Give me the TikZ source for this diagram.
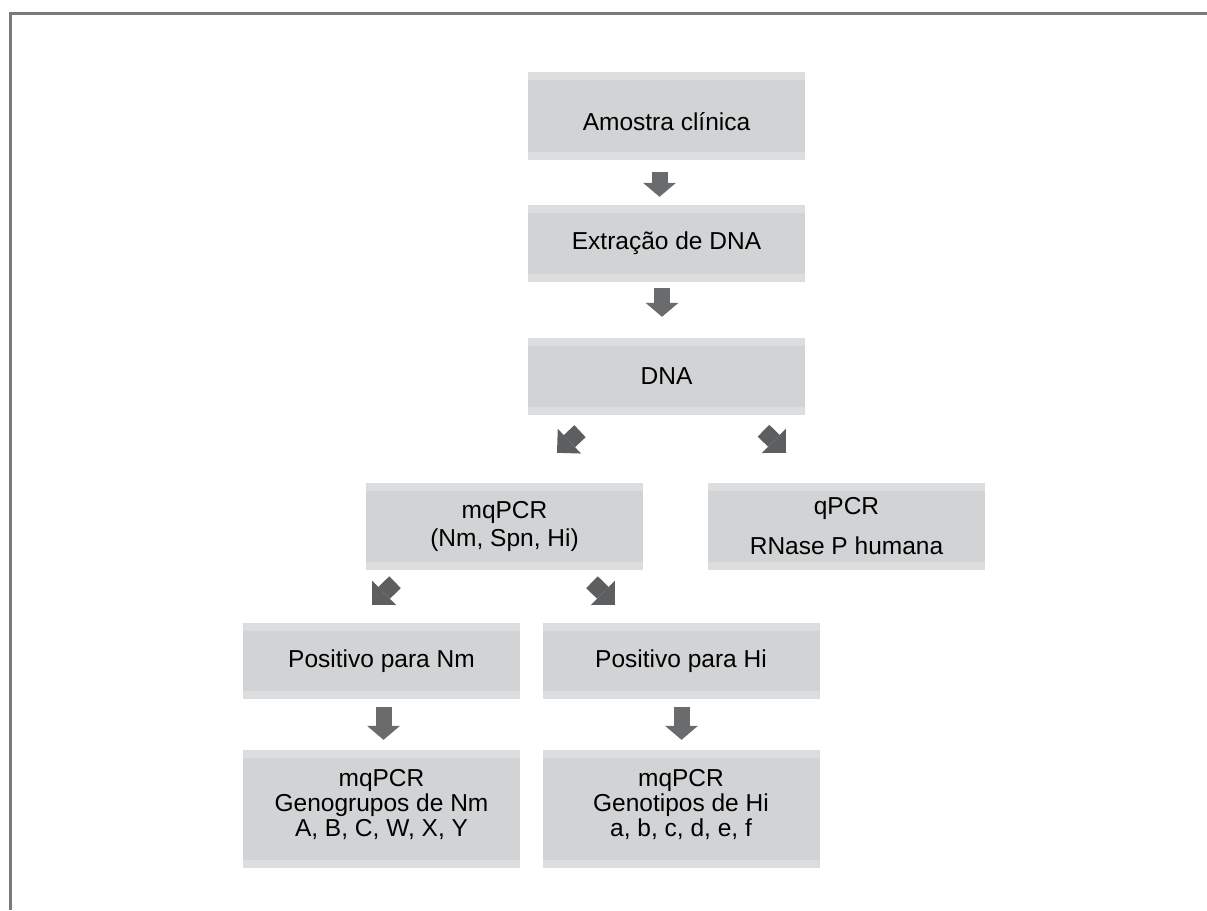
\documentclass[tikz,border=0pt]{standalone}
\usepackage{fontspec}
\setmainfont{Liberation Sans}
\usetikzlibrary{arrows.meta,calc}
\definecolor{boxfill}{HTML}{D1D3D4}
\definecolor{bandfill}{HTML}{DCDDDE}
\definecolor{arrowdark}{HTML}{5C5E60}
\definecolor{arrowmid}{HTML}{6A6B6D}
\definecolor{framegray}{HTML}{7A7A7A}
\begin{document}
\begin{tikzpicture}[x=1pt,y=-1pt,
  box/.style={rectangle, fill=boxfill, inner sep=0pt, minimum width=277pt, align=center,
    font=\fontsize{24.5}{25}\selectfont,
    path picture={
      \fill[bandfill] (path picture bounding box.north west) rectangle ([yshift=-8pt]path picture bounding box.north east);
      \fill[bandfill] (path picture bounding box.south west) rectangle ([yshift=8pt]path picture bounding box.south east);}},
  varrow/.style={draw=arrowmid, line width=16pt, -{Triangle[width=33pt,length=14pt,line width=0pt]}},
  darrow/.style={draw=arrowdark, line width=16.5pt, -{Triangle[width=34pt,length=17pt,line width=0pt]}},
  frame/.style={draw=framegray, line width=3pt, line join=miter}
  ]
\useasboundingbox (0,0) rectangle (1207,910);
\fill[white] (0,0) rectangle (1207,910);
\draw[frame] (10.5,910) -- (10.5,13) -- (1207,13);

\node[box, minimum height=88pt, text height=28pt, text depth=0pt] (A) at (666.5,116) {Amostra clínica};
\node[box, minimum height=77pt] (E) at (666.5,243.5) {Extração de DNA};
\node[box, minimum height=77pt] (D) at (666.5,376.5) {DNA};
\node[box, minimum height=87pt, font=\fontsize{24.5}{28}\selectfont] (M) at (504.5,526.5) {mqPCR\\(Nm, Spn, Hi)};
\node[box, minimum height=87pt, font=\fontsize{24.5}{40}\selectfont] (Q) at (846.5,526.5) {qPCR\\RNase P humana};
\node[box, minimum height=76pt] (PN) at (381.5,661) {Positivo para Nm};
\node[box, minimum height=76pt] (PH) at (681,661) {Positivo para Hi};
\node[box, minimum height=118pt, text depth=13pt] (GN) at (381.5,809) {mqPCR\\Genogrupos de Nm\\A, B, C, W, X, Y};
\node[box, minimum height=118pt, text depth=13pt] (GH) at (681,809) {mqPCR\\Genotipos de Hi\\a, b, c, d, e, f};

\draw[varrow] ([xshift=-7pt,yshift=-12pt]A.south) -- ([xshift=-7pt,yshift=8pt]E.north);
\draw[varrow] ([xshift=-4.5pt,yshift=-6pt]E.south) -- ([xshift=-4.5pt,yshift=21pt]D.north);
\draw[varrow] ([xshift=2pt,yshift=-8pt]PN.south) -- ([xshift=2pt,yshift=10pt]GN.north);
\draw[varrow] ([xshift=0.5pt,yshift=-8pt]PH.south) -- ([xshift=0.5pt,yshift=10pt]GH.north);

\draw[darrow] ([xshift=-86.5pt,yshift=-16pt]D.south) -- ([xshift=52.5pt,yshift=30pt]M.north);
\draw[darrow] ([xshift=97pt,yshift=-15.5pt]D.south) -- ([xshift=-60.5pt,yshift=30pt]Q.north);
\draw[darrow] ([xshift=-109.5pt,yshift=-12pt]M.south) -- ([xshift=-9.5pt,yshift=18pt]PN.north);
\draw[darrow] ([xshift=87.5pt,yshift=-12pt]M.south) -- ([xshift=-66pt,yshift=18pt]PH.north);
\end{tikzpicture}
\end{document}
